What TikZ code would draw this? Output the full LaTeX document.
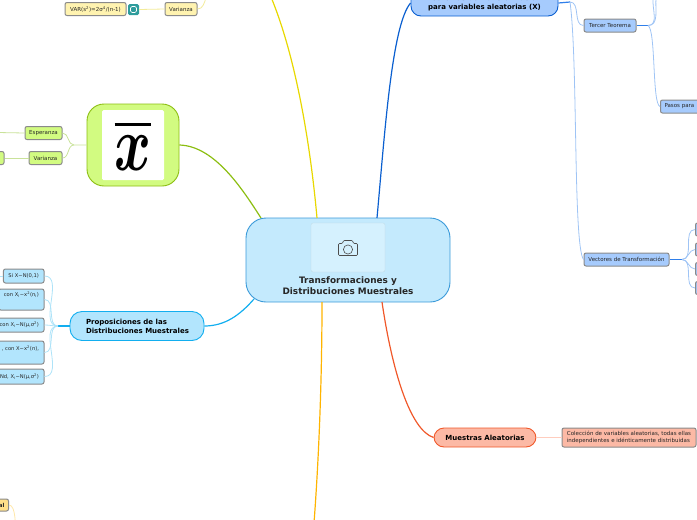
\documentclass[tikz,border=0pt]{standalone}
\usepackage{xcolor}
\usepackage{amsmath}
\usepackage{fontspec}
\setmainfont{DejaVu Sans}
\usepackage{tikz}
\usetikzlibrary{positioning}
\definecolor{rootfill}{HTML}{C4EAFD}
\definecolor{rootline}{HTML}{3A9AD9}
\definecolor{picfill}{HTML}{D5F1FE}
\definecolor{greenfill}{HTML}{D2FB81}
\definecolor{greenline}{HTML}{8CBE12}
\definecolor{greenpale}{HTML}{C9E29A}
\definecolor{yellowfill}{HTML}{FFF3B0}
\definecolor{yellowline}{HTML}{E8D800}
\definecolor{yellowpale}{HTML}{F3EB9A}
\definecolor{bluefill}{HTML}{A6CBFD}
\definecolor{blueline}{HTML}{0A5FD0}
\definecolor{bluestem}{HTML}{2F7FEA}
\definecolor{bluepale}{HTML}{9FC4F5}
\definecolor{skyfill}{HTML}{B2E5FD}
\definecolor{skyline}{HTML}{12AEEF}
\definecolor{skypale}{HTML}{AEE3F8}
\definecolor{redfill}{HTML}{FCB9A5}
\definecolor{redline}{HTML}{F0582A}
\definecolor{redpale}{HTML}{FFCDBE}
\definecolor{orangefill}{HTML}{FFE08A}
\definecolor{orangeline}{HTML}{FFB400}
\definecolor{orangepale}{HTML}{FFE7A8}
\definecolor{boxline}{HTML}{8A8A8A}
\definecolor{tealfill}{HTML}{2E9C9C}
\tikzset{
  topic/.style={draw,line width=.9pt,rounded corners=10pt,font=\fontsize{7}{9.2}\selectfont\bfseries,align=left,inner sep=0pt},
  subbox/.style={draw=boxline,line width=1pt,rounded corners=2pt,font=\fontsize{5.5}{6.8}\selectfont,text=black!85,inner xsep=0pt,inner ysep=0pt,minimum height=13pt},
  propbox/.style={subbox,fill=skyfill,anchor=east,inner xsep=5pt,font=\fontsize{5.2}{6.5}\selectfont},
  branch/.style={line width=1.2pt},
  twig/.style={line width=.8pt}
}
\begin{document}
\begin{tikzpicture}[x=1pt,y=-1pt]
    \path[use as bounding box,clip] (0,0) rectangle (697,520);

    % centre
    \node[draw=rootline,fill=rootfill,line width=.9pt,rounded corners=20pt,minimum width=204pt,minimum height=84pt] (root) at (348,260) {};
    \node[fill=picfill,draw=picfill!90!black,line width=.3pt,rounded corners=2pt,minimum width=74pt,minimum height=49pt] (pic) at (348,247.5) {};
    \node[font=\fontsize{8.9}{11}\selectfont\bfseries,align=center,text=black!85] (roottext) at (348,285.5) {Transformaciones y\\Distribuciones Muestrales};
    \draw[line width=.6pt,black!70,rounded corners=1pt] (338.5,243.5) -- (342.5,243.5) -- (343.5,240.5) -- (352.5,240.5) -- (353.5,243.5) -- (357.5,243.5) -- (357.5,255.5) -- (338.5,255.5) -- cycle;
    \draw[line width=.6pt,black!70] (348,249.5) circle (4.6pt);

    % main branches, free ends off the page
    \coordinate (yellowend) at (271,-3);
    \coordinate (orangeend) at (314,523);
    \coordinate (rootN1) at (317,218);
    \coordinate (rootN2) at (377,218);
    \coordinate (rootS1) at (322,302);
    \coordinate (rootS2) at (382,302);
    \coordinate (rootW1) at (261,218);
    \coordinate (rootW2) at (254,299);
    \draw[branch,yellowline] (rootN1) .. controls (310,140) and (295,55) .. (yellowend);
    \draw[branch,orangeline] (rootS1) .. controls (322,390) and (318,470) .. (orangeend);

    % x bar
    \node[draw=greenline,fill=greenfill,line width=.9pt,rounded corners=17pt,minimum width=92pt,minimum height=82pt] (xbar) at (133,145) {};
    \node[fill=white,rounded corners=1.5pt,minimum width=62pt,minimum height=70pt,inner sep=0pt] (xbarpic) at (133,145) {\scalebox{5.6}[7.8]{\boldmath$\overline{x}$}};
    \node[subbox,fill=greenfill,minimum width=37pt] (esperanza) at (43.5,133) {Esperanza};
    \node[subbox,fill=greenfill,minimum width=33pt] (varianzab) at (45.5,158) {Varianza};
    \node[subbox,fill=greenfill,minimum width=20pt] (stub) at (-6,158) {};
    \coordinate (esperanzaend) at (-2,132.5);
    \draw[twig,greenpale] (xbar.west) -- (74,145) to[out=180,in=0] (esperanza.east);
    \draw[twig,greenpale] (74,145) to[out=180,in=0] (varianzab.east);
    \draw[twig,greenpale] (esperanza.west) -- (esperanzaend);
    \draw[twig,greenpale] (varianzab.west) -- (stub.east);
    \draw[branch,greenline] (xbar.east) .. controls (215,146) and (243,190) .. (rootW1);

    % yellow part
    \node[subbox,fill=yellowfill,minimum width=32pt] (varianzaa) at (181,9) {Varianza};
    \node[subbox,fill=yellowfill,minimum width=61pt] (vars) at (95.5,9) {VAR(s\textsuperscript{2})=2σ\textsuperscript{4}/(n-1)};
    \node[fill=tealfill,rounded corners=1.5pt,minimum width=11pt,minimum height=11pt,inner sep=0pt] (icon) at (133.5,9.5) {};
    \draw[white,line width=.7pt,rounded corners=1.5pt] (130.5,6.5) rectangle (136.5,12.5);
    \coordinate (varianzaend) at (206,-2);
    \draw[twig,yellowpale] (icon.east) -- (varianzaa.west);
    \draw[twig,yellowpale] (varianzaa.east) to[out=0,in=-110] (varianzaend);

    % teoremas
    \node[topic,draw=blueline,fill=bluefill,minimum width=147pt,minimum height=26pt,align=center,text=black] (teoremas) at (484.5,3) {Teoremas de transformación\\para variables aleatorias (X)};
    \node[subbox,fill=bluefill,minimum width=52pt] (tercer) at (610,25.5) {Tercer Teorema};
    \node[subbox,fill=bluefill,anchor=west,minimum width=45pt,text width=37pt] (pasos) at (660,106.5) {Pasos para};
    \node[subbox,fill=bluefill,minimum width=85pt] (vectores) at (626.5,259.5) {Vectores de Transformación};
    \foreach \name/\ypos in {va/229.5,vb/249.5,vc/269,vd/288}
      \node[subbox,fill=bluefill,anchor=west,minimum width=12pt] (\name) at (695,\ypos) {};
    \coordinate (forkteo) at (570,2);
    \coordinate (forkter) at (648,25.5);
    \coordinate (forkvec) at (682,259.5);
    \coordinate (terceroutA) at (653,-2);
    \coordinate (terceroutB) at (656,-2);
    \draw[branch,blueline] (rootN2) .. controls (385,130) and (392,25) .. (teoremas.west);
    \draw[branch,bluestem] (teoremas.east) -- (forkteo);
    \draw[twig,bluepale] (forkteo) to[out=0,in=180] (tercer.west);
    \draw[twig,bluepale] (forkteo) .. controls (578,60) and (573,245) .. (vectores.west);
    \draw[branch,bluestem] (tercer.east) -- (forkter);
    \draw[twig,bluepale] (forkter) to[out=0,in=-95] (terceroutA);
    \draw[twig,bluepale] (forkter) to[out=0,in=-95] (terceroutB);
    \draw[twig,bluepale] (forkter) .. controls (656,30) and (652,104) .. (pasos.west);
    \draw[branch,bluestem] (vectores.east) -- (forkvec);
    \foreach \name in {va,vb,vc,vd}
      \draw[twig,bluepale] (forkvec) to[out=0,in=180] (\name.west);

    % muestras
    \node[topic,draw=redline,fill=redfill,minimum width=102pt,minimum height=19pt,text=black,align=center] (muestras) at (485,437.5) {Muestras Aleatorias};
    \node[subbox,fill=redfill,minimum width=134pt,minimum height=19pt,align=left] (coleccion) at (629,437.5) {Colección de variables aleatorias, todas ellas\\independientes e idénticamente distribuidas};
    \draw[line width=1.3pt,redpale] (muestras.east) -- (coleccion.west);
    \draw[branch,redline] (rootS2) .. controls (392,370) and (410,430) .. (muestras.west);

    % proposiciones
    \node[topic,draw=skyline,fill=skyfill,minimum width=134pt,minimum height=29pt,rounded corners=12pt,text=black] (prop) at (137,326) {\hspace{14pt}\parbox{116pt}{\raggedright Proposiciones de las\\Distribuciones Muestrales}};
    \draw[branch,skyline] (rootW2) .. controls (240,315) and (225,326) .. (prop.east);
    \coordinate (forkprop) at (58,326);
    \draw[line width=1.2pt,skyline] (prop.west) -- (forkprop);
    \node[propbox,minimum height=14pt] (propa) at (44.5,276) {Si X\textasciitilde N(0,1)};
    \node[propbox,minimum height=21pt,align=right] (propb) at (44.5,299.5) {con X\textsubscript{i}\textasciitilde x\textsuperscript{2}(n\textsubscript{i})\\[5pt]\mbox{}};
    \node[propbox,minimum height=14pt] (propc) at (44.5,325) {con X\textsubscript{i}\textasciitilde N(μ,σ\textsuperscript{2})};
    \node[propbox,minimum height=23pt,align=right] (propd) at (44.5,352.5) {, con X\textasciitilde x\textsuperscript{2}(n),\\[3pt]\mbox{}};
    \node[propbox,minimum height=15pt] (prope) at (44.5,376.5) {Nd, X\textsubscript{i}\textasciitilde N(μ,σ\textsuperscript{2})};
    \coordinate (propaend) at (-2,276);
    \draw[twig,skypale] (propa.west) -- (propaend);
    \foreach \name in {propa,propb,propc,propd,prope}
      \draw[twig,skypale] (forkprop) to[out=180,in=0] (\name.east);

    % abajo
    \node[subbox,fill=orangefill,anchor=east,inner xsep=4pt,minimum height=12pt,font=\fontsize{5.5}{6.8}\selectfont\bfseries] (normal) at (9,505) {al};
    \coordinate (normalend) at (16,523);
    \draw[twig,orangepale] (normal.east) to[out=0,in=-100] (normalend);
\end{tikzpicture}
\end{document}
